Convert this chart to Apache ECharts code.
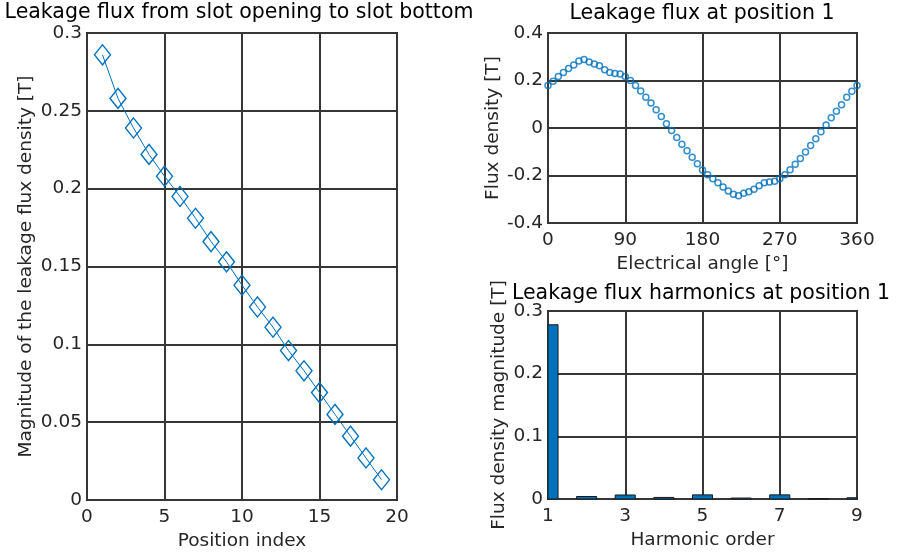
<!DOCTYPE html>
<html>
<head>
<meta charset="utf-8">
<script src="https://cdn.jsdelivr.net/npm/echarts@6/dist/echarts.min.js"></script>
<style>
html,body{margin:0;padding:0;background:#fff;}
#chart{width:897px;height:560px;}
</style>
</head>
<body>
<div id="chart"></div>
<script>
// ---- Data ----
const positionIndex = [1,2,3,4,5,6,7,8,9,10,11,12,13,14,15,16,17,18,19];
const leakageMagnitude = [0.286,0.258,0.239,0.222,0.208,0.195,0.181,0.166,0.153,0.138,0.124,0.111,0.096,0.083,0.069,0.055,0.041,0.027,0.013];

const electricalAngle = [0,6,12,18,24,30,36,42,48,54,60,66,72,78,84,90,96,102,108,114,120,126,132,138,144,150,156,162,168,174,180,186,192,198,204,210,216,222,228,234,240,246,252,258,264,270,276,282,288,294,300,306,312,318,324,330,336,342,348,354,360];
const fluxDensityPos1 = [0.179,0.197,0.217,0.234,0.251,0.265,0.282,0.288,0.278,0.270,0.262,0.245,0.234,0.230,0.227,0.217,0.200,0.179,0.156,0.130,0.105,0.077,0.048,0.018,-0.010,-0.040,-0.068,-0.096,-0.123,-0.150,-0.177,-0.197,-0.214,-0.231,-0.248,-0.265,-0.279,-0.285,-0.275,-0.268,-0.258,-0.243,-0.231,-0.227,-0.224,-0.214,-0.197,-0.176,-0.153,-0.128,-0.101,-0.074,-0.045,-0.016,0.013,0.043,0.071,0.098,0.129,0.155,0.179];

const harmonicOrder = [1,2,3,4,5,6,7,8,9];
const harmonicMagnitude = [0.278,0.004,0.0064,0.0025,0.0066,0.0015,0.0066,0.0005,0.002];

const titles = ['Leakage flux from slot opening to slot bottom','Leakage flux at position 1','Leakage flux harmonics at position 1'];
const xNames = ['Position index','Electrical angle [°]','Harmonic order'];
const yNames = ['Magnitude of the leakage flux density [T]','Flux density [T]','Flux density magnitude [T]'];

// ---- Styling ----
const FONT = 'DejaVu Sans';
const BLUE = '#0072BD';
const TXT = '#262626';
const GRIDC = '#363636';
const TICK_FS = 18.5;
const NAME_FS = 18.5;
const BAR_REL_WIDTH = 0.52;

function xAx(i, min, max, interval, name) {
  return {
    gridIndex: i, type: 'value', min: min, max: max, interval: interval,
    name: name, nameLocation: 'middle', nameGap: 32,
    nameTextStyle: {fontFamily: FONT, fontSize: NAME_FS, color: TXT},
    axisLine: {show: false}, axisTick: {show: false},
    axisLabel: {fontFamily: FONT, fontSize: TICK_FS, color: TXT, margin: 8, showMinLabel: true, showMaxLabel: true},
    splitLine: {show: true, lineStyle: {color: GRIDC, width: 2}}
  };
}
function yAx(i, min, max, interval, name, gap) {
  return {
    gridIndex: i, type: 'value', min: min, max: max, interval: interval,
    name: name, nameLocation: 'middle', nameGap: gap,
    nameTextStyle: {fontFamily: FONT, fontSize: NAME_FS, color: TXT},
    axisLine: {show: false}, axisTick: {show: false},
    axisLabel: {fontFamily: FONT, fontSize: TICK_FS, color: TXT, margin: 5, showMinLabel: true, showMaxLabel: true},
    splitLine: {show: true, lineStyle: {color: GRIDC, width: 2}}
  };
}
function gridBox(left, top, width, height) {
  return {left: left, top: top, width: width, height: height, show: true,
    borderColor: '#222', borderWidth: 2, backgroundColor: '#fff',
    containLabel: false, outerBoundsMode: 'none'};
}
function titleAt(text, cx, top) {
  return {text: text, left: cx, top: top, textAlign: 'center', padding: 0,
    textStyle: {fontFamily: FONT, fontSize: 20.5, fontWeight: 'normal', color: '#000'}};
}

const chart = echarts.init(document.getElementById('chart'), null, {renderer: 'canvas'});
chart.setOption({
  animation: false,
  backgroundColor: '#fff',
  title: [
    titleAt(titles[0], 239, 2),
    titleAt(titles[1], 702, 3),
    titleAt(titles[2], 701, 283)
  ],
  grid: [
    gridBox(87, 33, 310, 467),
    gridBox(548, 33, 309, 190),
    gridBox(548, 311, 309, 188)
  ],
  xAxis: [
    xAx(0, 0, 20, 5, xNames[0]),
    xAx(1, 0, 360, 90, xNames[1]),
    xAx(2, 1, 9, 2, xNames[2])
  ],
  yAxis: [
    yAx(0, 0, 0.3, 0.05, yNames[0], 51),
    yAx(1, -0.4, 0.4, 0.2, yNames[1], 45),
    yAx(2, 0, 0.3, 0.1, yNames[2], 39)
  ],
  series: [
    {
      type: 'line', xAxisIndex: 0, yAxisIndex: 0,
      data: positionIndex.map((x, i) => [x, leakageMagnitude[i]]),
      symbol: 'diamond', symbolSize: [16, 20],
      lineStyle: {color: BLUE, width: 1},
      itemStyle: {color: 'rgba(255,255,255,0)', borderColor: BLUE, borderWidth: 1.4},
      z: 3
    },
    {
      type: 'scatter', xAxisIndex: 1, yAxisIndex: 1,
      data: electricalAngle.map((x, i) => [x, fluxDensityPos1[i]]),
      symbol: 'circle', symbolSize: 6,
      itemStyle: {color: 'rgba(255,255,255,0)', borderColor: BLUE, borderWidth: 1.5},
      z: 3
    },
    {
      type: 'custom', xAxisIndex: 2, yAxisIndex: 2,
      data: harmonicOrder.map((x, i) => [x, harmonicMagnitude[i]]),
      encode: {x: 0, y: 1},
      renderItem: function (params, api) {
        const h = api.value(0), v = api.value(1);
        const top = api.coord([h, v]);
        const base = api.coord([h, 0]);
        const w = api.size([BAR_REL_WIDTH, 0])[0];
        const rect = echarts.graphic.clipRectByRect(
          {x: top[0] - w / 2, y: top[1], width: w, height: base[1] - top[1]},
          {x: params.coordSys.x, y: params.coordSys.y, width: params.coordSys.width, height: params.coordSys.height}
        );
        if (!rect) return null;
        return {type: 'rect', shape: rect,
          style: {fill: BLUE, stroke: '#1a1a1a', lineWidth: 1}};
      },
      z: 3
    }
  ]
});
</script>
</body>
</html>
